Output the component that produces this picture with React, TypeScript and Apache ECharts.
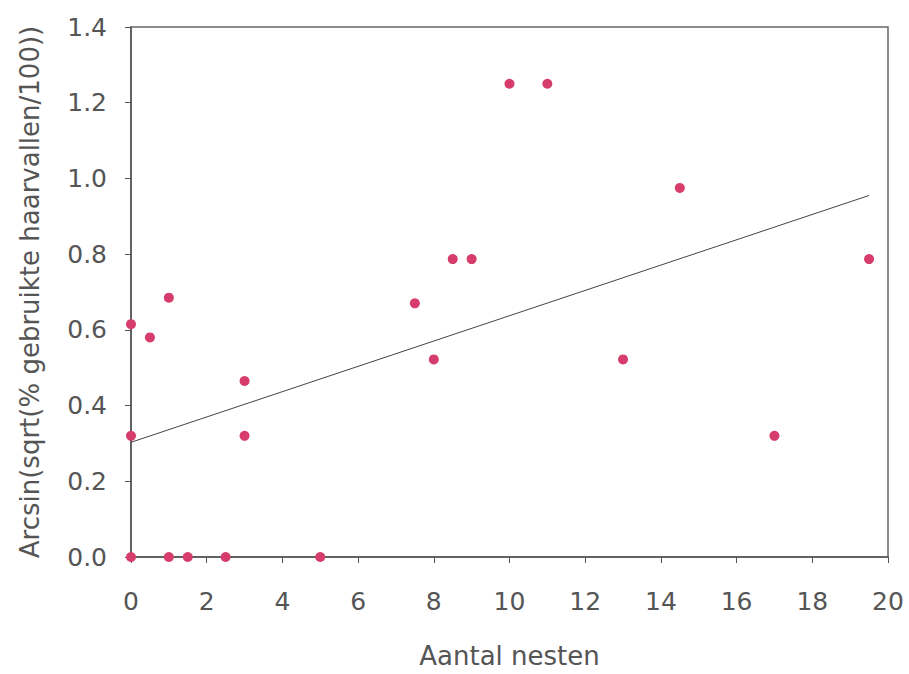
import React, { useEffect, useRef } from "react";
import * as echarts from "echarts";

const xValues = [0, 0, 0, 0.5, 1, 1, 1.5, 2.5, 3, 3, 5, 7.5, 8, 8.5, 9, 10, 11, 13, 14.5, 17, 19.5];
const yValues = [0, 0.32, 0.615, 0.58, 0.685, 0, 0, 0, 0.465, 0.32, 0, 0.67, 0.522, 0.787, 0.787, 1.25, 1.25, 0.522, 0.975, 0.32, 0.787];
const trendX = [0, 19.5];
const trendY = [0.303, 0.955];
const xTicks = { min: 0, max: 20, interval: 2 };
const yTicks = { min: 0, max: 1.4, interval: 0.2 };
const xName = "Aantal nesten";
const yName = "Arcsin(sqrt(% gebruikte haarvallen/100))";

export default function App() {
  const ref = useRef<HTMLDivElement>(null);
  useEffect(() => {
    if (!ref.current) return;
    const chart = echarts.init(ref.current, undefined, { renderer: "svg" });
    const axisLine = { show: true, lineStyle: { color: "#555", width: 1.5 } };
    const font = "'DejaVu Sans', sans-serif";
    chart.setOption({
      animation: false,
      backgroundColor: "#fff",
      grid: { left: 131, top: 27, right: 21, bottom: 115, show: true, borderColor: "#666", borderWidth: 1.5, backgroundColor: "transparent" },
      xAxis: {
        type: "value",
        min: xTicks.min, max: xTicks.max, interval: xTicks.interval,
        name: xName, nameLocation: "middle", nameGap: 86,
        nameTextStyle: { fontFamily: font, fontSize: 26, color: "#555" },
        axisLine,
        axisTick: { show: true, length: 6, inside: false, lineStyle: { color: "#555" } },
        axisLabel: { fontFamily: font, fontSize: 25, color: "#555", margin: 32, formatter: (v: number) => String(v) },
        splitLine: { show: false },
      },
      yAxis: {
        type: "value",
        min: yTicks.min, max: yTicks.max, interval: yTicks.interval,
        name: yName, nameLocation: "middle", nameGap: 88,
        nameTextStyle: { fontFamily: font, fontSize: 26, color: "#555" },
        axisLine,
        axisTick: { show: true, length: 6, inside: false, lineStyle: { color: "#555" } },
        axisLabel: { fontFamily: font, fontSize: 25, color: "#555", margin: 24, formatter: (v: number) => v.toFixed(1) },
        splitLine: { show: false },
      },
      series: [
        {
          type: "line",
          data: trendX.map((x, i) => [x, trendY[i]]),
          symbol: "none",
          lineStyle: { color: "#444", width: 1 },
          z: 2,
        },
        {
          type: "scatter",
          data: xValues.map((x, i) => [x, yValues[i]]),
          symbol: "circle",
          symbolSize: 10,
          itemStyle: { color: "#d63c6c", opacity: 1 },
          z: 3,
        },
      ],
    });
    return () => chart.dispose();
  }, []);
  return <div ref={ref} style={{ width: 909, height: 674, position: "absolute", left: 0, top: 0 }} />;
}
